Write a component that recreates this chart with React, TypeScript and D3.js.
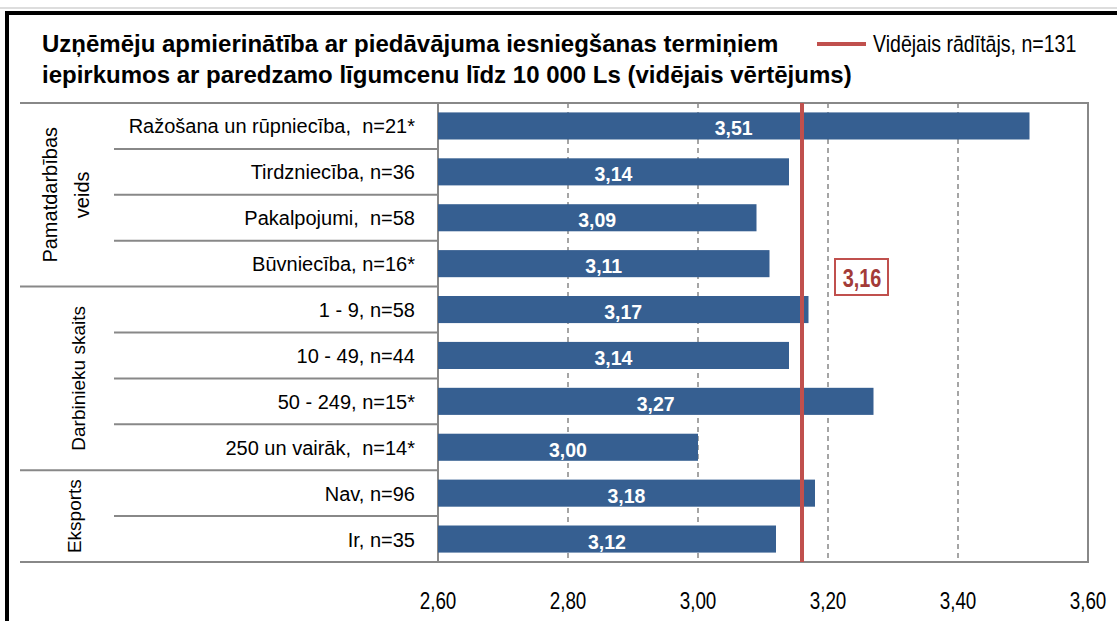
import * as d3 from "d3"
import React from "react"

// chart data
const categories = [
  "Ražošana un rūpniecība,  n=21*",
  "Tirdzniecība, n=36",
  "Pakalpojumi,  n=58",
  "Būvniecība, n=16*",
  "1 - 9, n=58",
  "10 - 49, n=44",
  "50 - 249, n=15*",
  "250 un vairāk,  n=14*",
  "Nav, n=96",
  "Ir, n=35",
]
const values = [3.51, 3.14, 3.09, 3.11, 3.17, 3.14, 3.27, 3.0, 3.18, 3.12]
const groupNames = [["Pamatdarbības", "veids"], ["Darbinieku skaits"], ["Eksports"]]
const groupSizes = [4, 4, 2]
const meanValue = 3.16
const meanLabel = "Vidējais rādītājs, n=131"
const xTicks = [2.6, 2.8, 3.0, 3.2, 3.4, 3.6]
const titleLines = [
  "Uzņēmēju apmierinātība ar piedāvājuma iesniegšanas termiņiem",
  "iepirkumos ar paredzamo līgumcenu līdz 10 000 Ls (vidējais vērtējums)",
]

const W = 1117
const H = 621
const plot = { left: 438, right: 1088, top: 103, bottom: 562 }
const barColor = "#365F91"
const red = "#C0504D"
const font = "'Liberation Sans', Arial, sans-serif"

const fmt = (v: number) => d3.format(".2f")(v).replace(".", ",")

// narrow text: the original used a condensed face, so squeeze horizontally
const Narrow = ({ x, y, sx, children, ...rest }: any) => (
  <text transform={`translate(${x},${y}) scale(${sx},1)`} {...rest}>{children}</text>
)

export default function App() {
  const x = d3.scaleLinear().domain([2.6, 3.6]).range([plot.left, plot.right])
  const y = d3.scaleBand<string>()
    .domain(categories)
    .range([plot.top, plot.bottom])
    .paddingInner(0.41)
    .paddingOuter(0.205)
  const step = y.step()
  const rowTop = (i: number) => plot.top + i * step

  // group boundaries (row indexes)
  const groupStarts: number[] = []
  let acc = 0
  groupSizes.forEach(s => { groupStarts.push(acc); acc += s })

  return (
    <svg width={W} height={H} style={{ position: "fixed", left: 0, top: 0, background: "#fff" }}
      fontFamily={font}>
      {/* outer frame */}
      <line x1={0} x2={W} y1={8} y2={8} stroke="#bbb" strokeWidth={1} />
      <rect x={7} y={13} width={W + 20} height={H + 20} fill="none" stroke="#000" strokeWidth={4} />

      {/* title */}
      {titleLines.map((t, i) => (
        <text key={i} x={42} y={52 + i * 31} fontSize={24} fontWeight="bold" fill="#000">{t}</text>
      ))}

      {/* legend */}
      <line x1={817} x2={866} y1={44} y2={44} stroke={red} strokeWidth={4} />
      <Narrow x={873} y={52} sx={0.85} fontSize={23} fill="#000">{meanLabel}</Narrow>

      {/* gridlines */}
      {xTicks.slice(1, -1).map(t => (
        <line key={t} x1={x(t)} x2={x(t)} y1={plot.top} y2={plot.bottom}
          stroke="#888" strokeWidth={1.5} strokeDasharray="5,4" />
      ))}

      {/* table lines on the left */}
      {categories.map((c, i) => {
        const isGroupStart = groupStarts.includes(i)
        return (
          <line key={c} x1={isGroupStart ? 20 : 114} x2={plot.left} y1={rowTop(i)} y2={rowTop(i)}
            stroke="#888" strokeWidth={2} />
        )
      })}
      <line x1={20} x2={plot.right} y1={plot.bottom} y2={plot.bottom} stroke="#888" strokeWidth={2} />
      <rect x={plot.left} y={plot.top} width={plot.right - plot.left} height={plot.bottom - plot.top}
        fill="none" stroke="#888" strokeWidth={2} />

      {/* group labels */}
      {groupNames.map((g, gi) => {
        const cy = rowTop(groupStarts[gi]) + (groupSizes[gi] * step) / 2
        const cx = [66, 78, 74][gi]
        return (
          <text key={gi} transform={`translate(${cx},${cy}) rotate(-90)`} textAnchor="middle"
            fontSize={gi === 0 ? 20 : 19} fill="#000">
            {g.map((line, li) => (
              <tspan key={li} x={0} y={(li - (g.length - 1) / 2) * 32 + 7}>{line}</tspan>
            ))}
          </text>
        )
      })}

      {/* category labels */}
      {categories.map(c => (
        <text key={c} x={415} y={(y(c) ?? 0) + y.bandwidth() / 2 + 7.5} textAnchor="end"
          fontSize={20} fill="#000" style={{ whiteSpace: "pre" }}>{c}</text>
      ))}

      {/* bars */}
      {categories.map((c, i) => (
        <g key={c}>
          <rect x={x(2.6)} y={y(c)} width={x(values[i]) - x(2.6)} height={y.bandwidth()} fill={barColor} />
          <text x={(x(2.6) + x(values[i])) / 2} y={(y(c) ?? 0) + y.bandwidth() / 2 + 9.5}
            textAnchor="middle" fontSize={19.5} fontWeight="bold" fill="#fff">{fmt(values[i])}</text>
        </g>
      ))}

      {/* mean line */}
      <line x1={x(meanValue)} x2={x(meanValue)} y1={plot.top} y2={plot.bottom} stroke={red} strokeWidth={4} />
      <rect x={835} y={259} width={53} height={36} fill="#fff" stroke={red} strokeWidth={2} />
      <Narrow x={862} y={286.5} sx={0.78} textAnchor="middle" fontSize={25.5} fontWeight="bold" fill="#A33B38">
        {fmt(meanValue)}
      </Narrow>

      {/* x axis tick labels */}
      {xTicks.map(t => (
        <Narrow key={t} x={x(t)} y={609} sx={0.77} textAnchor="middle" fontSize={24.5} fill="#000">{fmt(t)}</Narrow>
      ))}
    </svg>
  )
}
